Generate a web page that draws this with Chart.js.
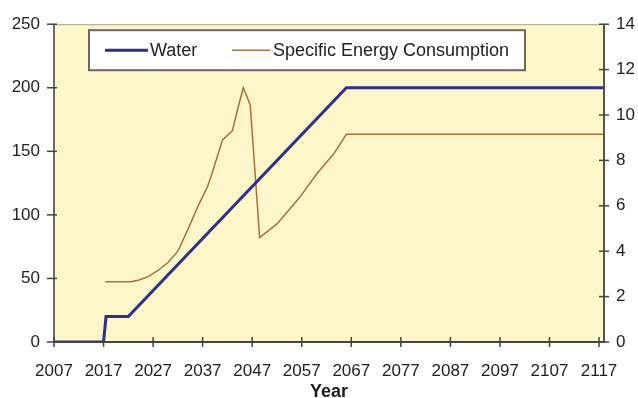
<!DOCTYPE html>
<html>
<head>
<meta charset="utf-8">
<script src="https://cdn.jsdelivr.net/npm/chart.js@4.4.1/dist/chart.umd.min.js"></script>
<style>
  html, body { margin: 0; padding: 0; background: #ffffff; }
  #wrap { width: 638px; height: 398px; position: relative; }
</style>
</head>
<body>
<div id="wrap"><canvas id="chart"></canvas></div>
<script>
// Water capacity (left axis) — breakpoints of the piecewise path
const waterYears = [2007, 2017, 2017.5, 2022, 2066, 2118];
const waterValues = [0, 0, 20, 20, 200, 200];

// Specific energy consumption (right axis)
const energyYears = [2017.3, 2022.5, 2024, 2026, 2028, 2030, 2032, 2034, 2036, 2038, 2039,
                     2041, 2043, 2044, 2045.2, 2046.6, 2048.5, 2052, 2056.5, 2060, 2063.5, 2066, 2118];
const energyValues = [2.65, 2.65, 2.72, 2.88, 3.15, 3.5, 4.0, 4.95, 5.95, 6.85, 7.5,
                      8.9, 9.3, 10.2, 11.2, 10.45, 4.6, 5.2, 6.35, 7.4, 8.3, 9.15, 9.15];

const yearTicks = [2007, 2017, 2027, 2037, 2047, 2057, 2067, 2077, 2087, 2097, 2107, 2117];
const leftTicks = [0, 50, 100, 150, 200, 250];
const rightTicks = [0, 2, 4, 6, 8, 10, 12, 14];

const FONT = '"Liberation Sans", Arial, sans-serif';

const toPoints = (xs, ys) => xs.map((x, i) => ({ x: x, y: ys[i] }));

// plot background and frame
const plotFrame = {
  id: 'plotFrame',
  beforeDraw(chart) {
    const { ctx, chartArea: a } = chart;
    ctx.save();
    ctx.fillStyle = '#fcf6c8';
    ctx.fillRect(a.left, a.top, a.right - a.left, a.bottom - a.top);
    ctx.strokeStyle = '#a8a890';
    ctx.lineWidth = 1;
    ctx.beginPath();
    ctx.moveTo(a.left, a.top + 0.5);
    ctx.lineTo(a.right, a.top + 0.5);
    ctx.stroke();
    ctx.restore();
  },
  afterDatasetsDraw(chart) {
    const { ctx, chartArea: a, scales } = chart;
    ctx.save();
    ctx.lineWidth = 2;
    // axis lines
    ctx.strokeStyle = '#6e6e60';
    ctx.beginPath(); ctx.moveTo(a.left, a.top); ctx.lineTo(a.left, a.bottom); ctx.stroke();
    ctx.strokeStyle = '#555550';
    ctx.beginPath(); ctx.moveTo(a.right, a.top); ctx.lineTo(a.right, a.bottom); ctx.stroke();
    ctx.strokeStyle = '#444440';
    ctx.beginPath(); ctx.moveTo(a.left, a.bottom); ctx.lineTo(a.right + 1, a.bottom); ctx.stroke();
    // tick marks crossing the axes
    ctx.lineWidth = 1.5;
    ctx.strokeStyle = '#444440';
    scales.x.ticks.forEach((t, i) => {
      const px = scales.x.getPixelForTick(i);
      ctx.beginPath(); ctx.moveTo(px, a.bottom - 5); ctx.lineTo(px, a.bottom + 5); ctx.stroke();
    });
    scales.y.ticks.forEach((t, i) => {
      const py = scales.y.getPixelForTick(i);
      ctx.beginPath(); ctx.moveTo(a.left - 7, py); ctx.lineTo(a.left + 3, py); ctx.stroke();
    });
    scales.y2.ticks.forEach((t, i) => {
      const py = scales.y2.getPixelForTick(i);
      ctx.beginPath(); ctx.moveTo(a.right - 5, py); ctx.lineTo(a.right + 5, py); ctx.stroke();
    });
    ctx.restore();
  }
};

// boxed legend inside the plot area
const boxLegend = {
  id: 'boxLegend',
  afterDraw(chart) {
    const { ctx, chartArea: a } = chart;
    const ds = chart.data.datasets;
    const x0 = a.left + 35, y0 = a.top + 6, w = 436, h = 40;
    ctx.save();
    ctx.fillStyle = '#ffffff';
    ctx.fillRect(x0, y0, w, h);
    ctx.strokeStyle = '#6a6a60';
    ctx.lineWidth = 2;
    ctx.strokeRect(x0, y0, w, h);
    const cy = y0 + h / 2;
    ctx.font = '18px ' + FONT;
    ctx.textBaseline = 'middle';
    ctx.fillStyle = '#222222';
    const items = [
      { ds: ds[0], sx: 16, sw: 43, tx: 61 },
      { ds: ds[1], sx: 143, sw: 38, tx: 184 }
    ];
    items.forEach(it => {
      ctx.strokeStyle = it.ds.borderColor;
      ctx.lineWidth = it.ds.borderWidth;
      ctx.beginPath();
      ctx.moveTo(x0 + it.sx, cy);
      ctx.lineTo(x0 + it.sx + it.sw, cy);
      ctx.stroke();
      ctx.fillText(it.ds.label, x0 + it.tx, cy + 1);
    });
    ctx.restore();
  }
};

new Chart(document.getElementById('chart'), {
  type: 'line',
  data: {
    datasets: [
      {
        label: 'Water',
        data: toPoints(waterYears, waterValues),
        yAxisID: 'y',
        borderColor: '#2f2f8e',
        borderWidth: 3,
        pointRadius: 0,
        tension: 0,
        fill: false
      },
      {
        label: 'Specific Energy Consumption',
        data: toPoints(energyYears, energyValues),
        yAxisID: 'y2',
        borderColor: '#a8703f',
        borderWidth: 1.5,
        pointRadius: 0,
        tension: 0,
        fill: false
      }
    ]
  },
  options: {
    responsive: true,
    maintainAspectRatio: false,
    animation: false,
    layout: { padding: { top: 22, left: 0, right: 0, bottom: 0 } },
    plugins: {
      legend: { display: false },
      tooltip: { enabled: false }
    },
    scales: {
      x: {
        type: 'linear',
        min: 2007,
        max: 2118,
        afterBuildTicks: s => { s.ticks = yearTicks.map(v => ({ value: v })); },
        afterFit: s => { s.height = 56; },
        grid: { display: false, drawTicks: false },
        border: { display: false },
        ticks: {
          padding: 19,
          autoSkip: false,
          maxRotation: 0,
          color: '#1e1e1e',
          font: { family: FONT, size: 17 },
          callback: v => String(v)
        },
        title: {
          display: true,
          text: 'Year',
          color: '#1e1e1e',
          padding: { top: 0, bottom: -5 },
          font: { family: FONT, size: 18, weight: 'bold' }
        }
      },
      y: {
        position: 'left',
        min: 0,
        max: 250,
        afterBuildTicks: s => { s.ticks = leftTicks.map(v => ({ value: v })); },
        afterFit: s => { s.width = 54; },
        grid: { display: false, drawTicks: false },
        border: { display: false },
        ticks: {
          padding: 14,
          color: '#1e1e1e',
          font: { family: FONT, size: 17 }
        }
      },
      y2: {
        position: 'right',
        min: 0,
        max: 14,
        afterBuildTicks: s => { s.ticks = rightTicks.map(v => ({ value: v })); },
        afterFit: s => { s.width = 34; },
        grid: { display: false, drawTicks: false },
        border: { display: false },
        ticks: {
          padding: 12,
          color: '#1e1e1e',
          font: { family: FONT, size: 17 }
        }
      }
    }
  },
  plugins: [plotFrame, boxLegend]
});
</script>
</body>
</html>
